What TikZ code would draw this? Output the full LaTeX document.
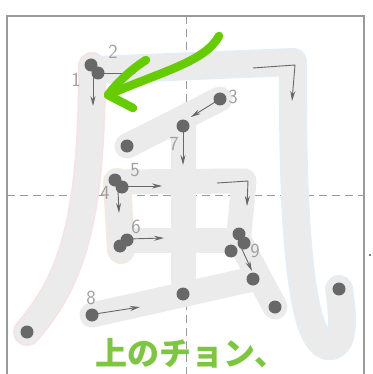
\documentclass[tikz,border=0pt]{standalone}
\usepackage{fontspec}
\newfontfamily\jpfont{Noto Sans CJK JP}
\usetikzlibrary{arrows.meta}
\definecolor{strokegray}{HTML}{EBEBEB}
\definecolor{dotgray}{HTML}{686868}
\definecolor{numgray}{HTML}{A0A0A0}
\definecolor{framegray}{HTML}{9A9A9A}
\definecolor{pinkedge}{HTML}{F8E2E2}
\definecolor{blueedge}{HTML}{E2EEF8}
\definecolor{beigeedge}{HTML}{F5EADB}
\definecolor{arrowgreen}{HTML}{66CC00}
\definecolor{textgreen}{HTML}{7EC642}
\begin{document}
\begin{tikzpicture}[x=1pt,y=-1pt,
  band/.style={line width=25pt,line cap=round,line join=round,draw=strokegray},
  edge/.style={line width=28pt,line cap=round,line join=round},
  dot/.style={fill=dotgray},
  num/.style={text=numgray,font=\sffamily\fontsize{20}{20}\selectfont,inner sep=0pt},
  dir/.style={draw=dotgray,line width=0.9pt,-{Stealth[length=10pt,width=5pt]}}]
\useasboundingbox (0,0) rectangle (372,374);

% Frame and guides
\draw[framegray,line width=1.2pt] (7,380) -- (7,16) -- (364,16) -- (364,380);
\draw[framegray,line width=1pt,dash pattern=on 8pt off 5pt] (186,16) -- (186,374);
\draw[framegray,line width=1pt,dash pattern=on 8pt off 5pt] (7,195) -- (364,195);

% Coordinates
\coordinate (s1a) at (92,66);
\coordinate (s1b) at (27,332);
\coordinate (s2a) at (97,70);
\coordinate (s2b) at (293,62);
\coordinate (s2c) at (339,289);
\coordinate (s3a) at (220,99);
\coordinate (s3b) at (127,146);
\coordinate (s4a) at (117,182);
\coordinate (s4b) at (121,250);
\coordinate (s5b) at (244,181);
\coordinate (s5c) at (239,234);
\coordinate (s6a) at (123,240);
\coordinate (s6b) at (231,251);
\coordinate (s7a) at (183,126);
\coordinate (s7b) at (183,294);
\coordinate (s8a) at (92,315);
\coordinate (s8b) at (253,279);
\coordinate (s9a) at (244,243);
\coordinate (s9b) at (275,307);

% Stroke edges
\draw[edge,pinkedge] (s1a) .. controls (92,220) and (72,280) .. (s1b);
\draw[edge,blueedge] (s2a) -- (s2b) .. controls (292,240) and (302,352) .. (332,346)
  .. controls (346,342) and (342,310) .. (s2c);
\draw[edge,beigeedge] (s4a) -- (s4b);

% Strokes
\draw[band] (s1a) .. controls (92,220) and (72,280) .. (s1b);
\draw[band] (s2a) -- (s2b) .. controls (292,240) and (302,352) .. (332,346)
  .. controls (346,342) and (342,310) .. (s2c);
\draw[band] (s3a) -- (s3b);
\draw[band] (s4a) -- (s4b);
\draw[band] (s4a) -- (s5b) -- (s5c);
\draw[band] (s6a) -- (232,240);
\draw[band] (s7a) -- (s7b);
\draw[band] (s8a) -- (s8b);
\draw[band] (239,240) -- (s9b);

% Points
\foreach \p in {(91,65),(98,73),(s3a),(s3b),(s7a),(s7b),(115,180),(122,187),
  (127,240),(120,246),(s5c),(s9a),(s6b),(s8b),(s9b),(s8a),(s1b),(s2c)}
  \fill[dot] \p circle (6.5pt);

% Directions
\draw[dir] (93,74) -- (93,106);
\draw[dir] (100,73) -- (136,73);
\draw[dir] (253,68) -- (295,65) -- (292,101);
\draw[dir] (s3a) -- (191,117);
\draw[dir] (s7a) -- (183,165);
\draw[dir] (118,190) -- (119,213);
\draw[dir] (123,186) -- (162,186);
\draw[dir] (217,183) -- (248,181) -- (247,206);
\draw[dir] (128,239) -- (164,238);
\draw[dir] (95,314) -- (140,307);
\draw[dir] (240,245) -- (252,271);

% Labels
\node[num] at (76,80) {1};
\node[num] at (113,52) {2};
\node[num] at (233,97) {3};
\node[num] at (105,193) {4};
\node[num] at (135,170) {5};
\node[num] at (136,227) {6};
\node[num] at (174,144) {7};
\node[num] at (91,298) {8};
\node[num] at (255,251) {9};

% Green pointer
\draw[arrowgreen,line width=8.5pt,line cap=round,line join=round]
  (219,36) .. controls (205,62) and (160,72) .. (108,95);
\draw[arrowgreen,line width=8.5pt,line cap=round,line join=round]
  (146,60) .. controls (130,70) and (115,85) .. (108,95) -- (133,108);

% Caption
\node[text=textgreen,font=\jpfont\bfseries\fontsize{32}{32}\selectfont,inner sep=0pt]
  (caption) at (191,353) {上のチョン、};

\fill[black!70] (370,255) circle (1.2pt);
\end{tikzpicture}
\end{document}
